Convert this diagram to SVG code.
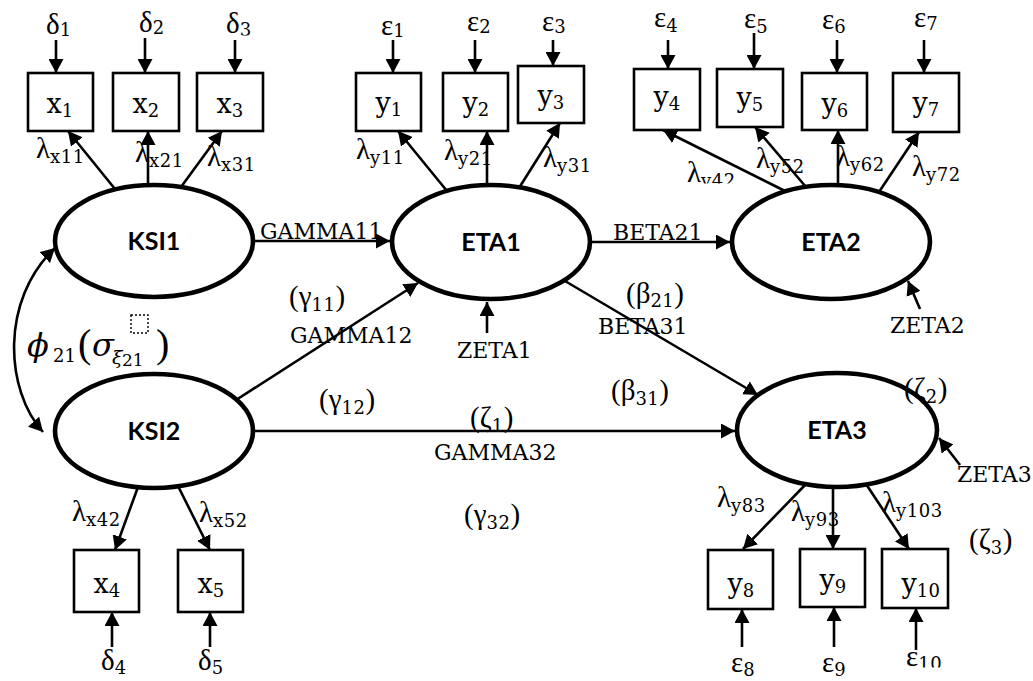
<svg xmlns="http://www.w3.org/2000/svg" width="1033" height="681" viewBox="0 0 1033 681">
<defs>
<style>
.box{fill:#fff;stroke:#000;stroke-width:2.6}
.ell{fill:#fff;stroke:#000;stroke-width:4.6}
.cn{fill:none;stroke:#000;stroke-width:2.6;marker-end:url(#ah)}
.lat{font-family:"Lato","Liberation Sans",sans-serif;font-weight:bold;font-size:25px;text-anchor:middle;fill:#000}
.w{font-family:"DejaVu Serif","Liberation Serif",serif;font-size:22px;fill:#000}
.g{font-family:"Liberation Serif","DejaVu Serif",serif;font-size:29px;fill:#000}
.v{font-family:"DejaVu Serif","Liberation Serif",serif;font-size:27px;fill:#000;text-anchor:middle}
.s{font-family:"DejaVu Serif","Liberation Serif",serif;font-size:18px;letter-spacing:0.5px}
.it{font-family:"DejaVu Serif","Liberation Serif",serif;font-style:italic;fill:#000}
.up{font-family:"Liberation Serif","DejaVu Serif",serif;fill:#000}
.dj{font-family:"DejaVu Serif","Liberation Serif",serif;fill:#000}
</style>
<marker id="ah" viewBox="0 0 14 15" refX="14" refY="7.5" markerWidth="14" markerHeight="15" markerUnits="userSpaceOnUse" orient="auto-start-reverse"><path d="M0,0 L14,7.5 L0,15 z" fill="#000"/></marker>
<clipPath id="c_d3"><rect x="200" y="0" width="80" height="35.5"/></clipPath>
<clipPath id="c_l42"><rect x="680" y="140" width="80" height="43.5"/></clipPath>
<clipPath id="c_e10"><rect x="890" y="640" width="60" height="27.5"/></clipPath>
</defs>
<rect x="0" y="0" width="1033" height="681" fill="#fff"/>

<g id="connectors">
<line class="cn" x1="56" y1="40" x2="56" y2="73"/>
<line class="cn" x1="145" y1="38" x2="145" y2="73"/>
<line class="cn" x1="235" y1="40" x2="235" y2="73"/>
<line class="cn" x1="393" y1="40" x2="393" y2="73"/>
<line class="cn" x1="475" y1="40" x2="475" y2="73"/>
<line class="cn" x1="553" y1="40" x2="553" y2="66"/>
<line class="cn" x1="668" y1="40" x2="668" y2="69"/>
<line class="cn" x1="754" y1="33" x2="754" y2="69"/>
<line class="cn" x1="837" y1="40" x2="837" y2="73"/>
<line class="cn" x1="924" y1="40" x2="924" y2="73"/>
<line class="cn" x1="112" y1="647" x2="112" y2="612"/>
<line class="cn" x1="210" y1="647" x2="210" y2="612"/>
<line class="cn" x1="742" y1="647" x2="742" y2="609"/>
<line class="cn" x1="834" y1="647" x2="834" y2="607"/>
<line class="cn" x1="916" y1="650" x2="916" y2="608"/>
<line class="cn" x1="115" y1="189" x2="68" y2="131"/>
<line class="cn" x1="148" y1="185" x2="148" y2="131"/>
<line class="cn" x1="181" y1="187" x2="222" y2="131"/>
<line class="cn" x1="447" y1="191" x2="398" y2="131"/>
<line class="cn" x1="487" y1="185" x2="487" y2="131"/>
<line class="cn" x1="519" y1="188" x2="560" y2="123"/>
<line class="cn" x1="785" y1="191" x2="663" y2="130"/>
<line class="cn" x1="806" y1="187" x2="755" y2="127"/>
<line class="cn" x1="838" y1="185" x2="838" y2="130"/>
<line class="cn" x1="879" y1="192" x2="919" y2="132"/>
<line class="cn" x1="138" y1="487" x2="115" y2="550"/>
<line class="cn" x1="178" y1="486" x2="210" y2="550"/>
<line class="cn" x1="807" y1="483" x2="743" y2="549"/>
<line class="cn" x1="833" y1="487" x2="833" y2="549"/>
<line class="cn" x1="866" y1="484" x2="909" y2="549"/>
<line class="cn" x1="253" y1="241" x2="390" y2="241"/>
<line class="cn" x1="590" y1="242" x2="730" y2="242"/>
<line class="cn" x1="253" y1="431" x2="735" y2="431"/>
<line class="cn" x1="236" y1="400" x2="418" y2="283"/>
<line class="cn" x1="565" y1="281" x2="758" y2="395"/>
<line class="cn" x1="487" y1="333" x2="487" y2="302"/>
<line class="cn" x1="920" y1="309" x2="908" y2="281"/>
<line class="cn" x1="960" y1="465" x2="939" y2="438"/>
<path class="cn" style="marker-start:url(#ah)" d="M55,248 C0,300 5,390 43,432"/>
</g>

<g id="KSI1"><ellipse class="ell" cx="154" cy="241" rx="99" ry="56"/><text class="lat" x="154" y="250">KSI1</text></g>
<g id="KSI2"><ellipse class="ell" cx="154" cy="431" rx="99" ry="57"/><text class="lat" x="154" y="440">KSI2</text></g>
<g id="ETA1"><ellipse class="ell" cx="491" cy="242" rx="99" ry="57"/><text class="lat" x="491" y="251">ETA1</text></g>
<g id="ETA2"><ellipse class="ell" cx="831" cy="242" rx="99" ry="57"/><text class="lat" x="831" y="251">ETA2</text></g>
<g id="ETA3"><ellipse class="ell" cx="837" cy="430" rx="100" ry="57"/><text class="lat" x="837" y="439">ETA3</text></g>

<g id="x1"><rect class="box" x="28" y="73" width="65" height="58"/><text class="v" x="60" y="113">x<tspan class="s" dy="4">1</tspan></text></g>
<g id="x2"><rect class="box" x="113" y="73" width="66" height="58"/><text class="v" x="146" y="113">x<tspan class="s" dy="4">2</tspan></text></g>
<g id="x3"><rect class="box" x="197" y="73" width="66" height="58"/><text class="v" x="230" y="113">x<tspan class="s" dy="4">3</tspan></text></g>
<g id="y1"><rect class="box" x="356" y="73" width="65" height="58"/><text class="v" x="389" y="112">y<tspan class="s" dy="4">1</tspan></text></g>
<g id="y2"><rect class="box" x="443" y="73" width="65" height="58"/><text class="v" x="476" y="112">y<tspan class="s" dy="4">2</tspan></text></g>
<g id="y3"><rect class="box" x="518" y="66" width="66" height="57"/><text class="v" x="551" y="105">y<tspan class="s" dy="4">3</tspan></text></g>
<g id="y4"><rect class="box" x="634" y="69" width="66" height="61"/><text class="v" x="667" y="106">y<tspan class="s" dy="4">4</tspan></text></g>
<g id="y5"><rect class="box" x="717" y="69" width="66" height="58"/><text class="v" x="750" y="107">y<tspan class="s" dy="4">5</tspan></text></g>
<g id="y6"><rect class="box" x="802" y="73" width="65" height="57"/><text class="v" x="835" y="113">y<tspan class="s" dy="4">6</tspan></text></g>
<g id="y7"><rect class="box" x="893" y="73" width="66" height="59"/><text class="v" x="926" y="112">y<tspan class="s" dy="4">7</tspan></text></g>
<g id="x4"><rect class="box" x="74" y="550" width="65" height="62"/><text class="v" x="107" y="593">x<tspan class="s" dy="4">4</tspan></text></g>
<g id="x5"><rect class="box" x="178" y="550" width="65" height="62"/><text class="v" x="211" y="593">x<tspan class="s" dy="4">5</tspan></text></g>
<g id="y8"><rect class="box" x="708" y="550" width="65" height="59"/><text class="v" x="741" y="593">y<tspan class="s" dy="4">8</tspan></text></g>
<g id="y9"><rect class="box" x="800" y="549" width="65" height="58"/><text class="v" x="833" y="589">y<tspan class="s" dy="4">9</tspan></text></g>
<g id="y10"><rect class="box" x="882" y="549" width="66" height="59"/><text class="v" x="921" y="593">y<tspan class="s" dy="4">10</tspan></text></g>

<g id="errors">
<text class="g" x="46" y="34">δ<tspan class="s" dy="2">1</tspan></text>
<text class="g" x="139" y="32">δ<tspan class="s" dy="2">2</tspan></text>
<text class="g" x="226" y="33" clip-path="url(#c_d3)">δ<tspan class="s" dy="3">3</tspan></text>
<text class="g" x="381" y="35">ε<tspan class="s" dy="2">1</tspan></text>
<text class="g" x="467" y="31">ε<tspan class="s" dy="2">2</tspan></text>
<text class="g" x="542" y="31">ε<tspan class="s" dy="2">3</tspan></text>
<text class="g" x="654" y="27">ε<tspan class="s" dy="5">4</tspan></text>
<text class="g" x="744" y="28">ε<tspan class="s" dy="5">5</tspan></text>
<text class="g" x="822" y="29">ε<tspan class="s" dy="4">6</tspan></text>
<text class="g" x="914" y="27">ε<tspan class="s" dy="3">7</tspan></text>
<text class="g" x="101" y="670">δ<tspan class="s" dy="4">4</tspan></text>
<text class="g" x="198" y="670">δ<tspan class="s" dy="4">5</tspan></text>
<text class="g" x="731" y="672">ε<tspan class="s" dy="4">8</tspan></text>
<text class="g" x="822" y="672">ε<tspan class="s" dy="4">9</tspan></text>
<text class="g" x="906" y="666" clip-path="url(#c_e10)">ε<tspan class="s" dy="4">10</tspan></text>
</g>

<g id="loading-labels">
<text class="g" x="36" y="158">λ<tspan class="s" dy="5">x11</tspan></text>
<text class="g" x="135" y="162">λ<tspan class="s" dy="5">x21</tspan></text>
<text class="g" x="207" y="166">λ<tspan class="s" dy="5">x31</tspan></text>
<text class="g" x="356" y="159">λ<tspan class="s" dy="5">y11</tspan></text>
<text class="g" x="444" y="160">λ<tspan class="s" dy="5">y21</tspan></text>
<text class="g" x="543" y="167">λ<tspan class="s" dy="5">y31</tspan></text>
<text class="g" x="687" y="182" clip-path="url(#c_l42)">λ<tspan class="s" dy="5">y42</tspan></text>
<text class="g" x="756" y="168">λ<tspan class="s" dy="5">y52</tspan></text>
<text class="g" x="836" y="166">λ<tspan class="s" dy="5">y62</tspan></text>
<text class="g" x="912" y="176">λ<tspan class="s" dy="5">y72</tspan></text>
<text class="g" x="72" y="521">λ<tspan class="s" dy="5">x42</tspan></text>
<text class="g" x="199" y="522">λ<tspan class="s" dy="5">x52</tspan></text>
<text class="g" x="717" y="507">λ<tspan class="s" dy="5">y83</tspan></text>
<text class="g" x="791" y="521">λ<tspan class="s" dy="5">y93</tspan></text>
<text class="g" x="882" y="512">λ<tspan class="s" dy="5">y103</tspan></text>
</g>

<g id="path-labels">
<text class="w" x="260" y="239">GAMMA11</text>
<text class="w" x="613" y="240">BETA21</text>
<text class="w" x="290" y="343">GAMMA12</text>
<text class="w" x="457" y="358">ZETA1</text>
<text class="w" x="598" y="334">BETA31</text>
<text class="w" x="890" y="333">ZETA2</text>
<text class="w" x="434" y="460">GAMMA32</text>
<text class="w" x="957" y="482">ZETA3</text>
<text class="g" x="289" y="306">(γ<tspan class="s" dy="5">11</tspan><tspan dy="-5">)</tspan></text>
<text class="g" x="626" y="303">(β<tspan class="s" dy="4">21</tspan><tspan dy="-4">)</tspan></text>
<text class="g" x="319" y="409">(γ<tspan class="s" dy="5">12</tspan><tspan dy="-5">)</tspan></text>
<text class="g" x="470" y="427">(ζ<tspan class="s" dy="5">1</tspan><tspan dy="-5">)</tspan></text>
<text class="g" x="611" y="400">(β<tspan class="s" dy="5">31</tspan><tspan dy="-5">)</tspan></text>
<text class="g" x="464" y="524">(γ<tspan class="s" dy="5">32</tspan><tspan dy="-5">)</tspan></text>
<text class="g" x="904" y="398">(ζ<tspan class="s" dy="5">2</tspan><tspan dy="-5">)</tspan></text>
<text class="g" x="969" y="549">(ζ<tspan class="s" dy="5">3</tspan><tspan dy="-5">)</tspan></text>
</g>

<g id="phi-label">
<text class="it" x="27" y="356" font-size="32">ϕ</text>
<text class="dj" x="53" y="362" font-size="18">21</text>
<text class="up" x="78" y="357" font-size="40">(</text>
<text class="it" x="92" y="356" font-size="32">σ</text>
<text class="it" x="112" y="364" font-size="19">ξ</text>
<text class="dj" x="122" y="366" font-size="17">21</text>
<rect x="131" y="315" width="17" height="18" fill="none" stroke="#000" stroke-width="1.4" stroke-dasharray="2,2"/>
<text class="up" x="156" y="357" font-size="40">)</text>
</g>
</svg>
